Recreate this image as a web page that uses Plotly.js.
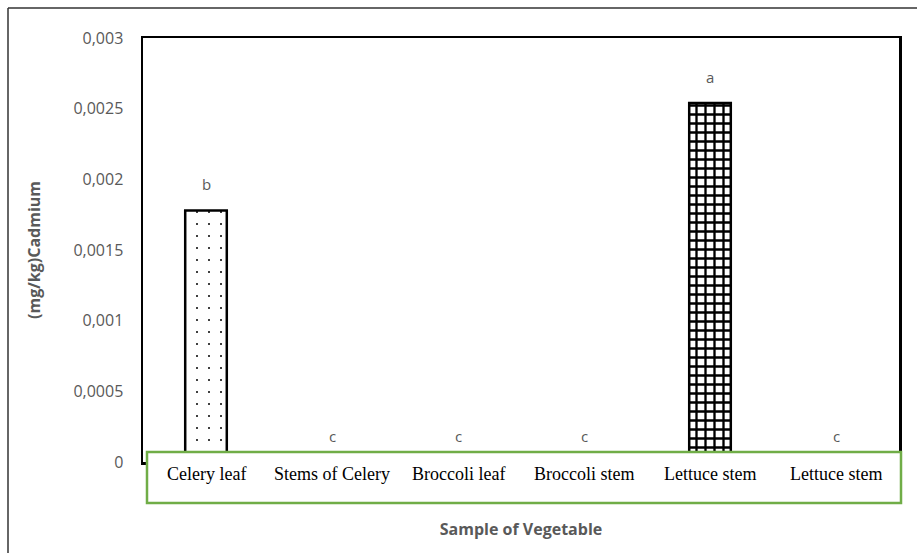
<!DOCTYPE html>
<html><head><meta charset="utf-8">
<script src="https://cdn.plot.ly/plotly-3.0.1.min.js"></script>
<style>html,body{margin:0;padding:0;background:#fff}#chart{width:917px;height:553px}</style>
</head><body><div id="chart"></div>
<script>
// Data
const categories = ["Celery leaf", "Stems of Celery", "Broccoli leaf", "Broccoli stem", "Lettuce stem", "Lettuce stem"];
const cadmium = [0.00178, 0, 0, 0, 0.00254, 0];
const letters = ["b", "c", "c", "c", "a", "c"];
const yTickVals = [0, 0.0005, 0.001, 0.0015, 0.002, 0.0025, 0.003];
const yTickText = ["0", "0,0005", "0,001", "0,0015", "0,002", "0,0025", "0,003"];
const patterns = [".", "", "", "", "+", ""];

const positions = categories.map((c, i) => i);
const W = 917, H = 553, L = 143, R = 18, T = 38, B = 91;
const pw = W - L - R, ph = H - T - B;
const px = x => (x - L) / pw;
const py = y => (H - B - y) / ph;

const gray = "#595959";
const trace = {
  type: "bar",
  x: positions,
  y: cadmium,
  width: 0.33,
  marker: {
    color: "white",
    line: { color: "black", width: 2.5 },
    pattern: {
      shape: patterns,
      fgcolor: "black",
      bgcolor: "white",
      size: patterns.map(p => p === "." ? 12 : 9),
      solidity: patterns.map(p => p === "." ? 0.022 : 0.45),
      fillmode: "replace"
    }
  },
  hoverinfo: "skip"
};

const annotations = [];
categories.forEach((c, i) => {
  annotations.push({
    x: positions[i], xref: "x", y: py(474), yref: "paper",
    text: c, showarrow: false, yanchor: "middle",
    font: { family: "Liberation Serif", size: 18, color: "black" }
  });
  annotations.push({
    x: positions[i], xref: "x", y: cadmium[i], yref: "y",
    text: letters[i], showarrow: false, yanchor: "middle", yshift: 26,
    font: { family: "Open Sans", size: 15, color: gray }
  });
});

const layout = {
  width: W, height: H,
  margin: { l: L, r: R, t: T, b: B },
  paper_bgcolor: "white", plot_bgcolor: "white",
  showlegend: false,
  font: { family: "Open Sans", color: gray },
  xaxis: {
    range: [-0.5, 5.5], showticklabels: false, ticks: "",
    showgrid: false, zeroline: false,
    showline: true, mirror: true, linecolor: "black", linewidth: 2.5,
    automargin: true,
    title: { text: "<b>Sample of Vegetable</b>", standoff: 61, font: { family: "Open Sans", size: 16, color: gray } }
  },
  yaxis: {
    range: [0, 0.003], tickvals: yTickVals, ticktext: yTickText,
    ticks: "outside", ticklen: 14, tickcolor: "rgba(0,0,0,0)",
    tickfont: { family: "Open Sans", size: 16, color: gray },
    showgrid: false, zeroline: false,
    showline: true, mirror: true, linecolor: "black", linewidth: 2.5,
    automargin: true,
    title: { text: "<b>(mg/kg)Cadmium</b>", standoff: 29, font: { family: "Open Sans", size: 16, color: gray } }
  },
  shapes: [
    { type: "line", xref: "paper", yref: "paper", x0: px(8), x1: px(8), y0: py(560), y1: py(8),
      line: { color: "#333333", width: 1.5 }, layer: "below" },
    { type: "line", xref: "paper", yref: "paper", x0: px(8), x1: px(925), y0: py(8), y1: py(8),
      line: { color: "#333333", width: 1.5 }, layer: "below" },
    { type: "rect", xref: "paper", yref: "paper", x0: px(147), x1: px(901), y0: py(503), y1: py(452),
      line: { color: "#70AD47", width: 2.5 }, fillcolor: "white", layer: "above" }
  ],
  annotations: annotations
};

Plotly.newPlot("chart", [trace], layout, { displayModeBar: false, staticPlot: true });
</script>
</body></html>
